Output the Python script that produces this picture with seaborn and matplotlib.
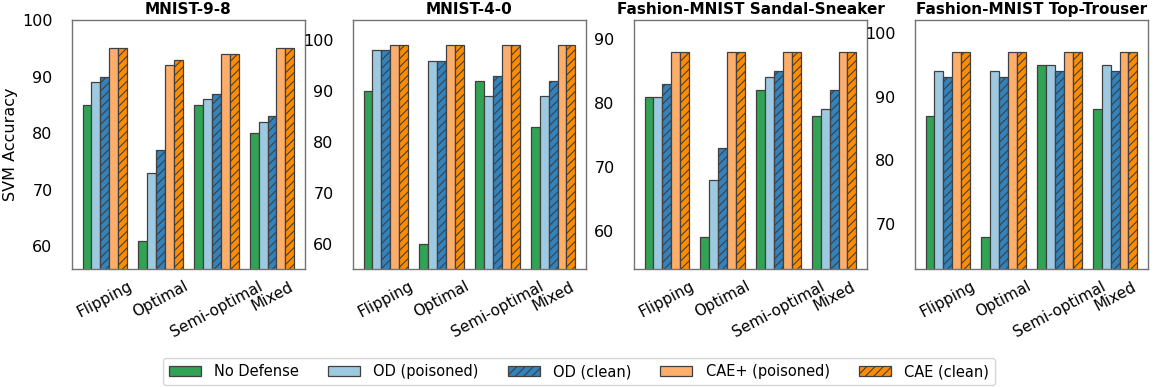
import pandas as pd
import matplotlib
matplotlib.use("Agg")
import matplotlib.pyplot as plt
import seaborn as sns
from matplotlib.patches import Patch

# Data
attacks = ['Flipping', 'Optimal', 'Semi-optimal', 'Mixed']
methods = ['No Defense', 'OD (poisoned)', 'OD (clean)', 'CAE+ (poisoned)', 'CAE (clean)']
titles = ['MNIST-9-8', 'MNIST-4-0', 'Fashion-MNIST Sandal-Sneaker', 'Fashion-MNIST Top-Trouser']

# one list per attack, values in method order
mnist_98 = [[85, 89, 90, 95, 95], [61, 73, 77, 92, 93], [85, 86, 87, 94, 94], [80, 82, 83, 95, 95]]
mnist_40 = [[90, 98, 98, 99, 99], [60, 96, 96, 99, 99], [92, 89, 93, 99, 99], [83, 89, 92, 99, 99]]
fmnist_ss = [[81, 81, 83, 88, 88], [59, 68, 73, 88, 88], [82, 84, 85, 88, 88], [78, 79, 82, 88, 88]]
fmnist_tt = [[87, 94, 93, 97, 97], [68, 94, 93, 97, 97], [95, 95, 94, 97, 97], [88, 95, 94, 97, 97]]
panels = [mnist_98, mnist_40, fmnist_ss, fmnist_tt]

colors = ['#31a354', '#9ecae1', '#3182bd', '#fdae6b', '#ff8c00']
hatches = ['', '', '////', '', '////']

sns.set_style("white")
plt.rcParams['font.family'] = ['DejaVu Sans']
plt.rcParams['hatch.linewidth'] = 0.8
plt.rcParams['text.color'] = 'black'
plt.rcParams['axes.labelcolor'] = 'black'

fig = plt.figure(figsize=(11.55, 3.87), dpi=100)
lefts = [0.0623, 0.3056, 0.5489, 0.7922]

for k, (title, vals) in enumerate(zip(titles, panels)):
    ax = fig.add_axes([lefts[k], 0.3049, 0.2017, 0.6434])
    rows = []
    for a, row in zip(attacks, vals):
        for m, v in zip(methods, row):
            rows.append({'attack': a, 'method': m, 'acc': v})
    df = pd.DataFrame(rows)
    sns.barplot(data=df, x='attack', y='acc', hue='method', order=attacks, hue_order=methods,
                palette=colors, saturation=1, edgecolor='0.25', linewidth=0.9,
                legend=False, ax=ax)
    for cont, h in zip(ax.containers, hatches):
        for bar in cont:
            bar.set_hatch(h)
    lo = df['acc'].min() - 5
    hi = df['acc'].max() + 5
    ax.set_ylim(lo, hi)
    ax.set_xlim(-0.59, 3.59)
    ax.yaxis.set_major_locator(matplotlib.ticker.MultipleLocator(10))
    ax.set_title(title, fontsize=11, fontweight='bold', pad=4)
    ax.set_xlabel('')
    ax.set_ylabel('SVM Accuracy' if k == 0 else '', fontsize=11.5, labelpad=3)
    ax.tick_params(axis='y', length=11, width=1.2, color='0.5', labelsize=11.5, pad=3,
                   labelcolor='black')
    ax.tick_params(axis='x', length=3, width=1.0, color='0.5', labelsize=11, pad=4,
                   labelcolor='black')
    plt.setp(ax.get_xticklabels(), rotation=28, ha='center')
    for s in ax.spines.values():
        s.set_color('0.45')
        s.set_linewidth(1.0)

handles = [Patch(facecolor=c, edgecolor='0.25', hatch=h, linewidth=0.9, label=m)
           for c, h, m in zip(colors, hatches, methods)]
fig.legend(handles=handles, loc='center', bbox_to_anchor=(0.501, 0.040), ncol=5,
           fontsize=10.5, frameon=True, handlelength=2.2, handletextpad=0.9,
           columnspacing=2.0)

fig.savefig('out.png', dpi=100)
